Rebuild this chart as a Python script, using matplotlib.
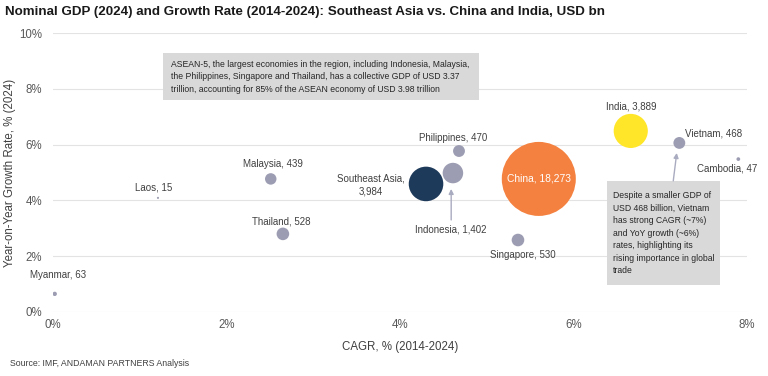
import matplotlib
matplotlib.use("Agg")
import matplotlib.pyplot as plt
from matplotlib import font_manager as fm
from matplotlib.patches import Rectangle
from matplotlib.ticker import FuncFormatter

names = {f.name for f in fm.fontManager.ttflist}
FONT = "Liberation Sans Narrow" if "Liberation Sans Narrow" in names else "Liberation Sans"
plt.rcParams["font.family"] = [FONT, "DejaVu Sans"]

# ---- data ----
countries = ["Myanmar", "Laos", "Malaysia", "Thailand", "Southeast Asia", "Indonesia",
             "Philippines", "China", "Singapore", "India", "Vietnam", "Cambodia"]
cagr = [0.02, 1.21, 2.51, 2.65, 4.30, 4.61, 4.68, 5.60, 5.36, 6.66, 7.22, 7.90]
yoy = [0.65, 4.09, 4.77, 2.80, 4.59, 4.98, 5.77, 4.77, 2.58, 6.49, 6.06, 5.48]
gdp = [63, 15, 439, 528, 3984, 1402, 470, 18273, 530, 3889, 468, 47]
gdp_labels = ["63", "15", "439", "528", "3,984", "1,402", "470", "18,273", "530", "3,889", "468", "47"]
x_ticks = [0, 2, 4, 6, 8]
y_ticks = [0, 2, 4, 6, 8, 10]

GREY = "#9C9DB3"
colors = {"China": "#F4813F", "India": "#FFE629", "Southeast Asia": "#1E3A5A"}

fig = plt.figure(figsize=(7.68, 3.76), dpi=100)
ax = fig.add_axes([53/768, 1-312/376, (747-53)/768, (312-33)/376])

scale = 2841 / 18273
for c, x, y, g in zip(countries, cagr, yoy, gdp):
    ax.scatter(x, y, s=g*scale, color=colors.get(c, GREY), edgecolors="none", zorder=3)

ax.set_xlim(0, 8)
ax.set_ylim(0, 10)
ax.set_xticks(x_ticks)
ax.set_yticks(y_ticks)
pct = FuncFormatter(lambda v, p: f"{v:.0f}%")
ax.xaxis.set_major_formatter(pct)
ax.yaxis.set_major_formatter(pct)
ax.tick_params(length=0, labelsize=8.3, labelcolor="#595959")
ax.tick_params(axis="y", pad=8)
ax.tick_params(axis="x", pad=5)
ax.grid(axis="y", color="#E3E3E3", lw=0.8)
ax.set_axisbelow(True)
for s in ax.spines.values():
    s.set_visible(False)
ax.set_xlabel("CAGR, % (2014-2024)", fontsize=8.3, color="#404040", labelpad=7)
ax.set_ylabel("Year-on-Year Growth Rate, % (2024)", fontsize=8.3, color="#404040", labelpad=2)

lab = dict(zip(countries, gdp_labels))
tc = "#404040"
fs = 7.0
pos = {
    "Myanmar": (0.06, 1.33),
    "Laos": (1.16, 4.48),
    "Malaysia": (2.54, 5.30),
    "Thailand": (2.63, 3.26),
    "Philippines": (4.61, 6.24),
    "Singapore": (5.42, 2.04),
    "India": (6.66, 7.35),
    "Vietnam": (7.62, 6.38),
    "Cambodia": (7.77, 5.16),
}
for c, (x, y) in pos.items():
    ax.text(x, y, f"{c}, {lab[c]}", fontsize=fs, color=tc, ha="center", va="center")
ax.text(3.66, 4.55, f"Southeast Asia,\n{lab['Southeast Asia']}", fontsize=fs, color=tc,
        ha="center", va="center", linespacing=1.3)
ax.text(5.60, 4.77, f"China, {lab['China']}", fontsize=fs+0.4, color="white",
        ha="center", va="center", zorder=5)

# Indonesia label + arrow
ax.text(4.59, 2.97, f"Indonesia, {lab['Indonesia']}", fontsize=fs, color=tc, ha="center", va="center")
ax.annotate("", xy=(4.59, 4.41), xytext=(4.59, 3.30),
            arrowprops=dict(arrowstyle="-|>", color="#A9ABC0", lw=1, mutation_scale=7,
                            shrinkA=0, shrinkB=0))

# ASEAN-5 box
ax.add_patch(Rectangle((1.27, 7.60), 4.91-1.27, 9.28-7.60, facecolor="#D9D9D9",
                       edgecolor="none", zorder=2))
ax.text(1.36, 8.44,
        "ASEAN-5, the largest economies in the region, including Indonesia, Malaysia,\n"
        "the Philippines, Singapore and Thailand, has a collective GDP of USD 3.37\n"
        "trillion, accounting for 85% of the ASEAN economy of USD 3.98 trillion",
        fontsize=6.25, color="#262626", ha="left", va="center", linespacing=1.5, zorder=3)

# Vietnam box + arrow
ax.add_patch(Rectangle((6.39, 0.97), 7.69-6.39, 4.70-0.97, facecolor="#D9D9D9",
                       edgecolor="none", zorder=2))
ax.text(6.46, 2.83,
        "Despite a smaller GDP of\nUSD 468 billion, Vietnam\nhas strong CAGR (~7%)\n"
        "and YoY growth (~6%)\nrates, highlighting its\nrising importance in global\ntrade",
        fontsize=6.25, color="#262626", ha="left", va="center", linespacing=1.5, zorder=3)
ax.annotate("", xy=(7.19, 5.70), xytext=(7.15, 4.70),
            arrowprops=dict(arrowstyle="-|>", color="#A9ABC0", lw=1, mutation_scale=7,
                            shrinkA=0, shrinkB=0))

fig.text(5/768, 1-12/376,
         "Nominal GDP (2024) and Growth Rate (2014-2024): Southeast Asia vs. China and India, USD bn",
         fontsize=9.6, fontweight="bold", color="#1a1a1a", ha="left", va="center")
fig.text(10/768, 1-364/376, "Source: IMF, ANDAMAN PARTNERS Analysis", fontsize=6.3,
         color="#404040", ha="left", va="center")

fig.savefig("out.png", dpi=100)
